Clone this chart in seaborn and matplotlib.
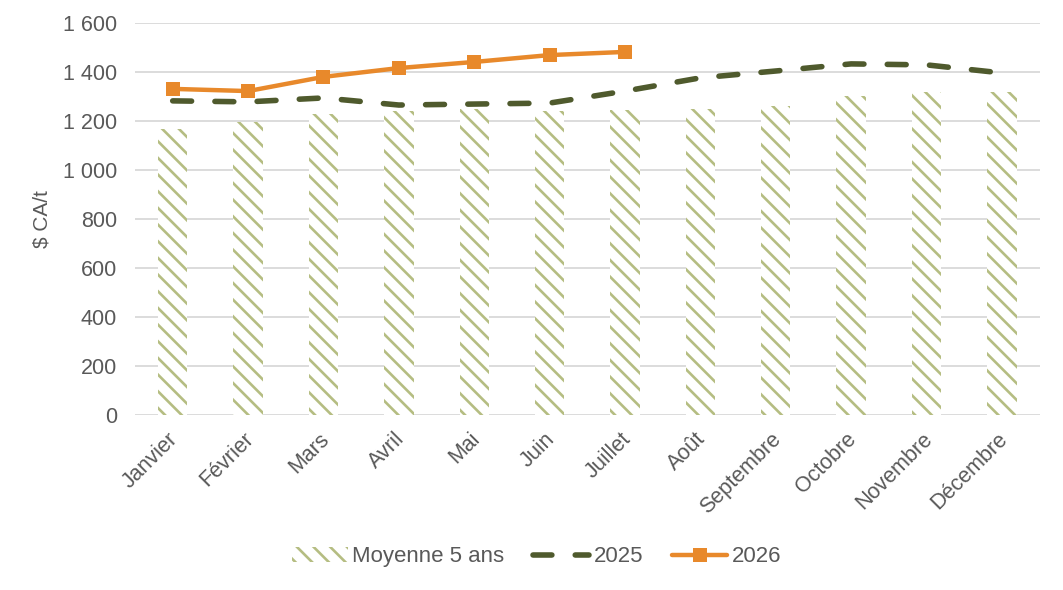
import numpy as np
import pandas as pd
import matplotlib
matplotlib.use("Agg")
import matplotlib.pyplot as plt
import matplotlib.transforms as mtransforms
import seaborn as sns
from matplotlib.ticker import FuncFormatter

# Données
mois = ["Janvier", "Février", "Mars", "Avril", "Mai", "Juin", "Juillet",
        "Août", "Septembre", "Octobre", "Novembre", "Décembre"]
moyenne_5_ans = [1167, 1196, 1229, 1241, 1249, 1241, 1245, 1249, 1261, 1302, 1318, 1318]
serie_2025 = [1282, 1278, 1294, 1265, 1269, 1273, 1322, 1376, 1404, 1433, 1429, 1396]
serie_2026 = [1331, 1322, 1380, 1416, 1441, 1469, 1482]

sns.set_theme(style="white")
plt.rcParams["font.family"] = ["Liberation Sans", "DejaVu Sans"]
plt.rcParams["hatch.linewidth"] = 1.9

gris = "#595959"
fig = plt.figure(figsize=(10.63, 5.9), dpi=100)
ax = fig.add_axes([0.127, 0.297, 0.851, 0.664])

df = pd.DataFrame({"mois": mois, "valeur": moyenne_5_ans})
sns.barplot(data=df, x="mois", y="valeur", ax=ax, color="white", width=0.39,
            edgecolor="#b5bd82", linewidth=0, hatch="\\\\", label="Moyenne 5 ans",
            zorder=2)

x25 = np.arange(len(serie_2025))
sns.lineplot(x=x25, y=serie_2025, ax=ax, color="#4f5a2d", linewidth=4.0,
             dashes=False, zorder=3, label="2025")
ax.lines[-1].set_dashes((3.4, 4.2))
ax.lines[-1].set_dash_capstyle("round")

x26 = np.arange(len(serie_2026))
sns.lineplot(x=x26, y=serie_2026, ax=ax, color="#e8892b", linewidth=3.2,
             marker="s", markersize=10, markeredgewidth=0, zorder=4, label="2026")

ax.set_ylim(0, 1600)
ax.set_xlim(-0.5, 11.5)
ax.set_yticks(range(0, 1601, 200))
ax.yaxis.set_major_formatter(FuncFormatter(lambda v, p: f"{int(v):,}".replace(",", " ")))
ax.grid(axis="y", color="#d9d9d9", linewidth=1.3, zorder=0)
ax.set_axisbelow(True)
for s in ax.spines.values():
    s.set_visible(False)

ax.set_xlabel("")
ax.set_ylabel("$ CA/t", fontsize=15, color=gris, labelpad=8)
ax.tick_params(axis="y", labelsize=15.5, colors=gris, length=0, pad=13)
ax.tick_params(axis="x", labelsize=15.5, colors=gris, length=0, pad=10)
decalage = mtransforms.ScaledTranslation(-5 / 100, 0, fig.dpi_scale_trans)
for t in ax.get_xticklabels():
    t.set_rotation(45)
    t.set_ha("right")
    t.set_rotation_mode("anchor")
    t.set_transform(t.get_transform() + decalage)

h, l = ax.get_legend_handles_labels()
ordre = [l.index("Moyenne 5 ans"), l.index("2025"), l.index("2026")]
h = [h[i] for i in ordre]
l = [l[i] for i in ordre]
if ax.get_legend():
    ax.get_legend().remove()
leg = fig.legend(h, l, loc="center", bbox_to_anchor=(0.505, 0.056), ncol=3, frameon=False,
                 fontsize=16, handlelength=2.5, columnspacing=1.3, handletextpad=0.2)
for t in leg.get_texts():
    t.set_color(gris)

fig.savefig("out.png", dpi=100)
